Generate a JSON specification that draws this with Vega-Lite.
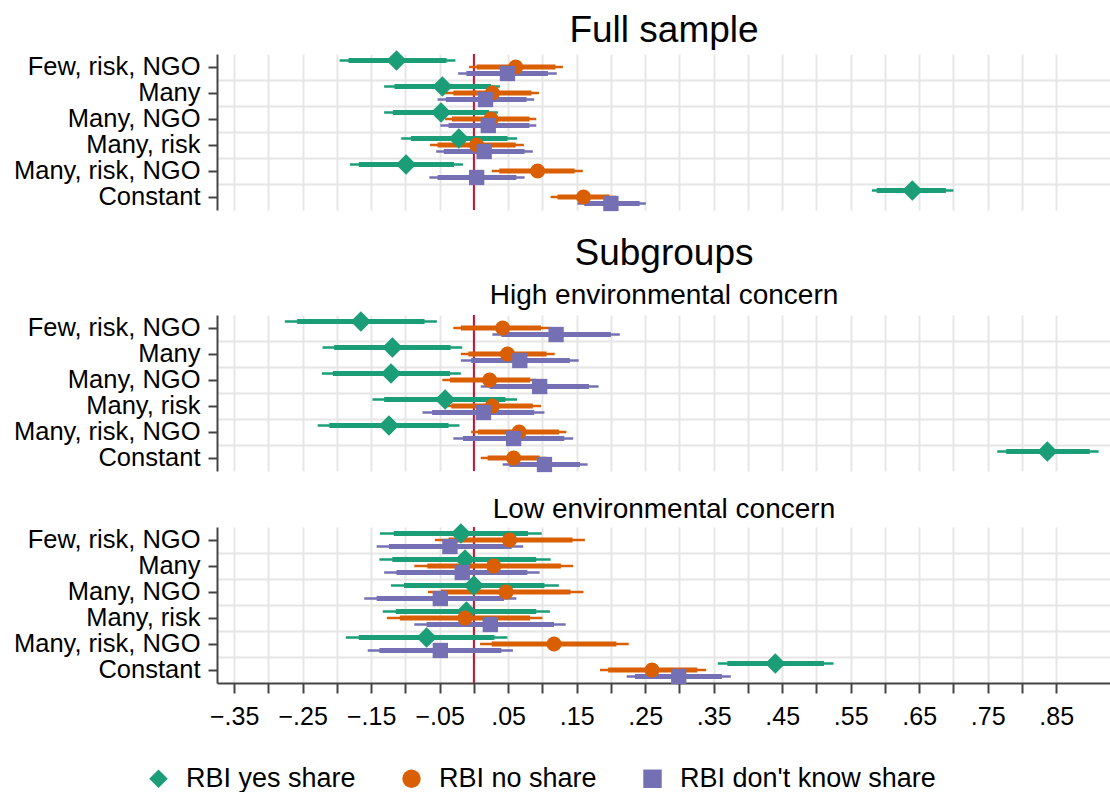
{
  "$schema": "https://vega.github.io/schema/vega-lite/v6.json",
  "background": "white",
  "padding": {"left": 13, "top": 12, "right": 0, "bottom": 0},
  "spacing": 23,
  "config": {
    "view": {"stroke": null},
    "font": "Liberation Sans",
    "axis": {"labelFont": "Liberation Sans", "titleFont": "Liberation Sans"},
    "legend": {"labelFont": "Liberation Sans"},
    "title": {"font": "Liberation Sans", "subtitleFont": "Liberation Sans", "fontWeight": "normal", "color": "#000000", "subtitleColor": "#000000", "anchor": "middle", "frame": "group"}
  },
  "datasets": {
    "coef": [
      {"p":"Full","t":"Few, risk, NGO","s":"RBI yes share","b":-0.113,"l95":-0.196,"h95":-0.027,"l90":-0.183,"h90":-0.040},
      {"p":"Full","t":"Many","s":"RBI yes share","b":-0.046,"l95":-0.131,"h95":0.038,"l90":-0.116,"h90":0.025},
      {"p":"Full","t":"Many, NGO","s":"RBI yes share","b":-0.048,"l95":-0.131,"h95":0.035,"l90":-0.118,"h90":0.022},
      {"p":"Full","t":"Many, risk","s":"RBI yes share","b":-0.022,"l95":-0.106,"h95":0.063,"l90":-0.092,"h90":0.049},
      {"p":"Full","t":"Many, risk, NGO","s":"RBI yes share","b":-0.099,"l95":-0.181,"h95":-0.016,"l90":-0.168,"h90":-0.029},
      {"p":"Full","t":"Constant","s":"RBI yes share","b":0.640,"l95":0.581,"h95":0.700,"l90":0.588,"h90":0.689},
      {"p":"Full","t":"Few, risk, NGO","s":"RBI no share","b":0.061,"l95":-0.007,"h95":0.130,"l90":0.004,"h90":0.119},
      {"p":"Full","t":"Many","s":"RBI no share","b":0.027,"l95":-0.042,"h95":0.095,"l90":-0.030,"h90":0.084},
      {"p":"Full","t":"Many, NGO","s":"RBI no share","b":0.025,"l95":-0.042,"h95":0.091,"l90":-0.032,"h90":0.081},
      {"p":"Full","t":"Many, risk","s":"RBI no share","b":0.004,"l95":-0.064,"h95":0.073,"l90":-0.053,"h90":0.061},
      {"p":"Full","t":"Many, risk, NGO","s":"RBI no share","b":0.093,"l95":0.026,"h95":0.159,"l90":0.037,"h90":0.147},
      {"p":"Full","t":"Constant","s":"RBI no share","b":0.160,"l95":0.112,"h95":0.208,"l90":0.122,"h90":0.198},
      {"p":"Full","t":"Few, risk, NGO","s":"RBI don't know share","b":0.049,"l95":-0.023,"h95":0.121,"l90":-0.011,"h90":0.108},
      {"p":"Full","t":"Many","s":"RBI don't know share","b":0.017,"l95":-0.053,"h95":0.088,"l90":-0.041,"h90":0.077},
      {"p":"Full","t":"Many, NGO","s":"RBI don't know share","b":0.021,"l95":-0.049,"h95":0.091,"l90":-0.037,"h90":0.081},
      {"p":"Full","t":"Many, risk","s":"RBI don't know share","b":0.015,"l95":-0.055,"h95":0.086,"l90":-0.044,"h90":0.074},
      {"p":"Full","t":"Many, risk, NGO","s":"RBI don't know share","b":0.004,"l95":-0.065,"h95":0.074,"l90":-0.053,"h90":0.062},
      {"p":"Full","t":"Constant","s":"RBI don't know share","b":0.200,"l95":0.151,"h95":0.251,"l90":0.161,"h90":0.242},

      {"p":"High","t":"Few, risk, NGO","s":"RBI yes share","b":-0.165,"l95":-0.276,"h95":-0.054,"l90":-0.258,"h90":-0.072},
      {"p":"High","t":"Many","s":"RBI yes share","b":-0.119,"l95":-0.221,"h95":-0.017,"l90":-0.204,"h90":-0.034},
      {"p":"High","t":"Many, NGO","s":"RBI yes share","b":-0.121,"l95":-0.222,"h95":-0.019,"l90":-0.206,"h90":-0.035},
      {"p":"High","t":"Many, risk","s":"RBI yes share","b":-0.042,"l95":-0.148,"h95":0.063,"l90":-0.131,"h90":0.046},
      {"p":"High","t":"Many, risk, NGO","s":"RBI yes share","b":-0.124,"l95":-0.228,"h95":-0.021,"l90":-0.211,"h90":-0.037},
      {"p":"High","t":"Constant","s":"RBI yes share","b":0.837,"l95":0.764,"h95":0.912,"l90":0.777,"h90":0.899},
      {"p":"High","t":"Few, risk, NGO","s":"RBI no share","b":0.042,"l95":-0.030,"h95":0.110,"l90":-0.019,"h90":0.098},
      {"p":"High","t":"Many","s":"RBI no share","b":0.049,"l95":-0.019,"h95":0.118,"l90":-0.008,"h90":0.106},
      {"p":"High","t":"Many, NGO","s":"RBI no share","b":0.023,"l95":-0.046,"h95":0.091,"l90":-0.035,"h90":0.082},
      {"p":"High","t":"Many, risk","s":"RBI no share","b":0.027,"l95":-0.043,"h95":0.098,"l90":-0.033,"h90":0.086},
      {"p":"High","t":"Many, risk, NGO","s":"RBI no share","b":0.066,"l95":-0.004,"h95":0.135,"l90":0.006,"h90":0.124},
      {"p":"High","t":"Constant","s":"RBI no share","b":0.058,"l95":0.010,"h95":0.106,"l90":0.020,"h90":0.096},
      {"p":"High","t":"Few, risk, NGO","s":"RBI don't know share","b":0.120,"l95":0.027,"h95":0.213,"l90":0.040,"h90":0.200},
      {"p":"High","t":"Many","s":"RBI don't know share","b":0.067,"l95":-0.019,"h95":0.153,"l90":-0.004,"h90":0.140},
      {"p":"High","t":"Many, NGO","s":"RBI don't know share","b":0.096,"l95":0.010,"h95":0.182,"l90":0.023,"h90":0.168},
      {"p":"High","t":"Many, risk","s":"RBI don't know share","b":0.014,"l95":-0.075,"h95":0.103,"l90":-0.061,"h90":0.088},
      {"p":"High","t":"Many, risk, NGO","s":"RBI don't know share","b":0.058,"l95":-0.030,"h95":0.145,"l90":-0.016,"h90":0.132},
      {"p":"High","t":"Constant","s":"RBI don't know share","b":0.103,"l95":0.042,"h95":0.166,"l90":0.052,"h90":0.155},

      {"p":"Low","t":"Few, risk, NGO","s":"RBI yes share","b":-0.019,"l95":-0.137,"h95":0.099,"l90":-0.117,"h90":0.079},
      {"p":"Low","t":"Many","s":"RBI yes share","b":-0.013,"l95":-0.138,"h95":0.112,"l90":-0.119,"h90":0.091},
      {"p":"Low","t":"Many, NGO","s":"RBI yes share","b":0.000,"l95":-0.121,"h95":0.124,"l90":-0.102,"h90":0.103},
      {"p":"Low","t":"Many, risk","s":"RBI yes share","b":-0.011,"l95":-0.133,"h95":0.111,"l90":-0.114,"h90":0.091},
      {"p":"Low","t":"Many, risk, NGO","s":"RBI yes share","b":-0.069,"l95":-0.187,"h95":0.049,"l90":-0.168,"h90":0.030},
      {"p":"Low","t":"Constant","s":"RBI yes share","b":0.440,"l95":0.356,"h95":0.525,"l90":0.370,"h90":0.511},
      {"p":"Low","t":"Few, risk, NGO","s":"RBI no share","b":0.052,"l95":-0.057,"h95":0.162,"l90":-0.037,"h90":0.144},
      {"p":"Low","t":"Many","s":"RBI no share","b":0.029,"l95":-0.087,"h95":0.145,"l90":-0.068,"h90":0.127},
      {"p":"Low","t":"Many, NGO","s":"RBI no share","b":0.047,"l95":-0.067,"h95":0.160,"l90":-0.048,"h90":0.141},
      {"p":"Low","t":"Many, risk","s":"RBI no share","b":-0.013,"l95":-0.127,"h95":0.100,"l90":-0.108,"h90":0.082},
      {"p":"Low","t":"Many, risk, NGO","s":"RBI no share","b":0.117,"l95":0.009,"h95":0.226,"l90":0.026,"h90":0.208},
      {"p":"Low","t":"Constant","s":"RBI no share","b":0.260,"l95":0.184,"h95":0.339,"l90":0.196,"h90":0.326},
      {"p":"Low","t":"Few, risk, NGO","s":"RBI don't know share","b":-0.035,"l95":-0.142,"h95":0.072,"l90":-0.124,"h90":0.055},
      {"p":"Low","t":"Many","s":"RBI don't know share","b":-0.017,"l95":-0.131,"h95":0.096,"l90":-0.113,"h90":0.078},
      {"p":"Low","t":"Many, NGO","s":"RBI don't know share","b":-0.049,"l95":-0.160,"h95":0.062,"l90":-0.142,"h90":0.044},
      {"p":"Low","t":"Many, risk","s":"RBI don't know share","b":0.024,"l95":-0.087,"h95":0.134,"l90":-0.069,"h90":0.117},
      {"p":"Low","t":"Many, risk, NGO","s":"RBI don't know share","b":-0.049,"l95":-0.155,"h95":0.057,"l90":-0.138,"h90":0.040},
      {"p":"Low","t":"Constant","s":"RBI don't know share","b":0.299,"l95":0.223,"h95":0.375,"l90":0.235,"h90":0.362}
    ]
  },
  "vconcat": [
    {
      "width": 894, "height": 156,
      "title": {"text": "Full sample", "fontSize": 37, "offset": 0},
      "resolve": {"axis": {"y": "independent"}},
      "layer": [
        {"data": {"values": [{}]}, "mark": {"type": "rule", "color": "#c8102e", "strokeWidth": 2},
         "encoding": {"x": {"datum": 0, "type": "quantitative",
           "axis": {"title": null, "orient": "bottom", "values": [-0.35,-0.3,-0.25,-0.2,-0.15,-0.1,-0.05,0,0.05,0.1,0.15,0.2,0.25,0.3,0.35,0.4,0.45,0.5,0.55,0.6,0.65,0.7,0.75,0.8,0.85], "grid": true, "gridColor": "#e6e6e6", "gridWidth": 2, "labels": false, "ticks": false, "domain": false}}}},
        {"data": {"name": "coef"}, "transform": [{"filter": "datum.p == 'Full'"}],
         "mark": {"type": "rule", "strokeWidth": 2.5},
         "encoding": {
           "x": {"field": "l95", "type": "quantitative", "scale": {"domain": [-0.375, 0.93], "nice": false, "zero": false},
                 "axis": {"title": null, "orient": "bottom", "values": [-0.35,-0.3,-0.25,-0.2,-0.15,-0.1,-0.05,0,0.05,0.1,0.15,0.2,0.25,0.3,0.35,0.4,0.45,0.5,0.55,0.6,0.65,0.7,0.75,0.8,0.85], "grid": true, "gridColor": "#e6e6e6", "gridWidth": 2, "labels": false, "ticks": false, "domain": false}},
           "x2": {"field": "h95"},
           "y": {"field": "t", "type": "nominal",
                 "scale": {"domain": ["Few, risk, NGO","Many","Many, NGO","Many, risk","Many, risk, NGO","Constant"], "paddingInner": 0, "paddingOuter": 0},
                 "axis": {"title": null, "orient": "left", "grid": true, "gridColor": "#e6e6e6", "gridWidth": 2, "labels": false, "ticks": false, "domain": false, "bandPosition": 0, "values": ["Many","Many, NGO","Many, risk","Many, risk, NGO","Constant"], "minExtent": 0, "maxExtent": 0}},
           "yOffset": {"field": "s", "type": "nominal", "scale": {"domain": ["RBI yes share","RBI no share","RBI don't know share"], "paddingInner": 0, "paddingOuter": 0.5}},
           "stroke": {"field": "s", "type": "nominal", "scale": {"domain": ["RBI don't know share","RBI no share","RBI yes share"], "range": ["#7570b3","#d95f02","#1b9e77"]}, "legend": null}
         }},
        {"data": {"name": "coef"}, "transform": [{"filter": "datum.p == 'Full'"}],
         "mark": {"type": "rule", "strokeWidth": 5},
         "encoding": {
           "x": {"field": "l90", "type": "quantitative",
                 "axis": {"title": null, "orient": "bottom", "values": [-0.35,-0.3,-0.25,-0.2,-0.15,-0.1,-0.05,0,0.05,0.1,0.15,0.2,0.25,0.3,0.35,0.4,0.45,0.5,0.55,0.6,0.65,0.7,0.75,0.8,0.85], "grid": true, "gridColor": "#e6e6e6", "gridWidth": 2, "labels": false, "ticks": false, "domain": false}},
           "x2": {"field": "h90"},
           "y": {"field": "t", "type": "nominal", "axis": null},
           "yOffset": {"field": "s", "type": "nominal"},
           "stroke": {"field": "s", "type": "nominal", "legend": null}
         }},
        {"data": {"name": "coef"}, "transform": [{"filter": "datum.p == 'Full'"}],
         "mark": {"type": "point", "filled": true, "opacity": 1},
         "encoding": {
           "x": {"field": "b", "type": "quantitative",
                 "axis": {"title": null, "orient": "bottom", "values": [-0.35,-0.3,-0.25,-0.2,-0.15,-0.1,-0.05,0,0.05,0.1,0.15,0.2,0.25,0.3,0.35,0.4,0.45,0.5,0.55,0.6,0.65,0.7,0.75,0.8,0.85], "grid": true, "gridColor": "#e6e6e6", "gridWidth": 2, "labels": false, "ticks": false, "domain": false}},
           "y": {"field": "t", "type": "nominal",
                 "axis": {"title": null, "orient": "left", "grid": false, "labelFontSize": 25.5, "labelColor": "#000000", "labelPadding": 8, "labelLimit": 400, "tickSize": 9, "tickWidth": 2, "tickColor": "#444444", "domainColor": "#444444", "domainWidth": 2}},
           "yOffset": {"field": "s", "type": "nominal"},
           "color": {"field": "s", "type": "nominal", "scale": {"domain": ["RBI yes share","RBI no share","RBI don't know share"], "range": ["#1b9e77","#d95f02","#7570b3"]},
                     "legend": {"title": null, "orient": "none", "legendX": -72, "legendY": 711, "direction": "horizontal", "labelFontSize": 27, "labelLimit": 500, "labelColor": "#000000", "symbolSize": 340, "symbolStrokeWidth": 0, "columnPadding": 42, "labelOffset": 14}},
           "shape": {"field": "s", "type": "nominal", "scale": {"domain": ["RBI yes share","RBI no share","RBI don't know share"], "range": ["diamond","circle","square"]},
                     "legend": {"title": null, "orient": "none", "legendX": -72, "legendY": 711, "direction": "horizontal", "labelFontSize": 27, "labelLimit": 500, "labelColor": "#000000", "symbolSize": 340, "symbolStrokeWidth": 0, "columnPadding": 42, "labelOffset": 14}},
           "size": {"field": "s", "type": "nominal", "scale": {"type": "ordinal", "domain": ["RBI don't know share","RBI yes share","RBI no share"], "range": [235, 420, 230]}, "legend": null}
         }}
      ]
    },
    {
      "width": 894, "height": 156,
      "title": {"text": "Subgroups", "subtitle": "High environmental concern", "fontSize": 37, "subtitleFontSize": 28, "subtitlePadding": 9, "offset": 0},
      "resolve": {"axis": {"y": "independent"}},
      "layer": [
        {"data": {"values": [{}]}, "mark": {"type": "rule", "color": "#c8102e", "strokeWidth": 2},
         "encoding": {"x": {"datum": 0, "type": "quantitative",
           "axis": {"title": null, "orient": "bottom", "values": [-0.35,-0.3,-0.25,-0.2,-0.15,-0.1,-0.05,0,0.05,0.1,0.15,0.2,0.25,0.3,0.35,0.4,0.45,0.5,0.55,0.6,0.65,0.7,0.75,0.8,0.85], "grid": true, "gridColor": "#e6e6e6", "gridWidth": 2, "labels": false, "ticks": false, "domain": false}}}},
        {"data": {"name": "coef"}, "transform": [{"filter": "datum.p == 'High'"}],
         "mark": {"type": "rule", "strokeWidth": 2.5},
         "encoding": {
           "x": {"field": "l95", "type": "quantitative", "scale": {"domain": [-0.375, 0.93], "nice": false, "zero": false},
                 "axis": {"title": null, "orient": "bottom", "values": [-0.35,-0.3,-0.25,-0.2,-0.15,-0.1,-0.05,0,0.05,0.1,0.15,0.2,0.25,0.3,0.35,0.4,0.45,0.5,0.55,0.6,0.65,0.7,0.75,0.8,0.85], "grid": true, "gridColor": "#e6e6e6", "gridWidth": 2, "labels": false, "ticks": false, "domain": false}},
           "x2": {"field": "h95"},
           "y": {"field": "t", "type": "nominal",
                 "scale": {"domain": ["Few, risk, NGO","Many","Many, NGO","Many, risk","Many, risk, NGO","Constant"], "paddingInner": 0, "paddingOuter": 0},
                 "axis": {"title": null, "orient": "left", "grid": true, "gridColor": "#e6e6e6", "gridWidth": 2, "labels": false, "ticks": false, "domain": false, "bandPosition": 0, "values": ["Many","Many, NGO","Many, risk","Many, risk, NGO","Constant"], "minExtent": 0, "maxExtent": 0}},
           "yOffset": {"field": "s", "type": "nominal", "scale": {"domain": ["RBI yes share","RBI no share","RBI don't know share"], "paddingInner": 0, "paddingOuter": 0.5}},
           "stroke": {"field": "s", "type": "nominal", "scale": {"domain": ["RBI don't know share","RBI no share","RBI yes share"], "range": ["#7570b3","#d95f02","#1b9e77"]}, "legend": null}
         }},
        {"data": {"name": "coef"}, "transform": [{"filter": "datum.p == 'High'"}],
         "mark": {"type": "rule", "strokeWidth": 5},
         "encoding": {
           "x": {"field": "l90", "type": "quantitative",
                 "axis": {"title": null, "orient": "bottom", "values": [-0.35,-0.3,-0.25,-0.2,-0.15,-0.1,-0.05,0,0.05,0.1,0.15,0.2,0.25,0.3,0.35,0.4,0.45,0.5,0.55,0.6,0.65,0.7,0.75,0.8,0.85], "grid": true, "gridColor": "#e6e6e6", "gridWidth": 2, "labels": false, "ticks": false, "domain": false}},
           "x2": {"field": "h90"},
           "y": {"field": "t", "type": "nominal", "axis": null},
           "yOffset": {"field": "s", "type": "nominal"},
           "stroke": {"field": "s", "type": "nominal", "legend": null}
         }},
        {"data": {"name": "coef"}, "transform": [{"filter": "datum.p == 'High'"}],
         "mark": {"type": "point", "filled": true, "opacity": 1},
         "encoding": {
           "x": {"field": "b", "type": "quantitative",
                 "axis": {"title": null, "orient": "bottom", "values": [-0.35,-0.3,-0.25,-0.2,-0.15,-0.1,-0.05,0,0.05,0.1,0.15,0.2,0.25,0.3,0.35,0.4,0.45,0.5,0.55,0.6,0.65,0.7,0.75,0.8,0.85], "grid": true, "gridColor": "#e6e6e6", "gridWidth": 2, "labels": false, "ticks": false, "domain": false}},
           "y": {"field": "t", "type": "nominal",
                 "axis": {"title": null, "orient": "left", "grid": false, "labelFontSize": 25.5, "labelColor": "#000000", "labelPadding": 8, "labelLimit": 400, "tickSize": 9, "tickWidth": 2, "tickColor": "#444444", "domainColor": "#444444", "domainWidth": 2}},
           "yOffset": {"field": "s", "type": "nominal"},
           "color": {"field": "s", "type": "nominal", "scale": {"domain": ["RBI yes share","RBI no share","RBI don't know share"], "range": ["#1b9e77","#d95f02","#7570b3"]},
                     "legend": {"title": null, "orient": "none", "legendX": -72, "legendY": 711, "direction": "horizontal", "labelFontSize": 27, "labelLimit": 500, "labelColor": "#000000", "symbolSize": 340, "symbolStrokeWidth": 0, "columnPadding": 42, "labelOffset": 14}},
           "shape": {"field": "s", "type": "nominal", "scale": {"domain": ["RBI yes share","RBI no share","RBI don't know share"], "range": ["diamond","circle","square"]},
                     "legend": {"title": null, "orient": "none", "legendX": -72, "legendY": 711, "direction": "horizontal", "labelFontSize": 27, "labelLimit": 500, "labelColor": "#000000", "symbolSize": 340, "symbolStrokeWidth": 0, "columnPadding": 42, "labelOffset": 14}},
           "size": {"field": "s", "type": "nominal", "scale": {"type": "ordinal", "domain": ["RBI don't know share","RBI yes share","RBI no share"], "range": [235, 420, 230]}, "legend": null}
         }}
      ]
    },
    {
      "width": 894, "height": 156,
      "title": {"text": "Low environmental concern", "fontSize": 28, "offset": -1},
      "resolve": {"axis": {"y": "independent"}},
      "layer": [
        {"data": {"values": [{}]}, "mark": {"type": "rule", "color": "#c8102e", "strokeWidth": 2},
         "encoding": {"x": {"datum": 0, "type": "quantitative",
           "axis": {"title": null, "orient": "bottom", "values": [-0.35,-0.3,-0.25,-0.2,-0.15,-0.1,-0.05,0,0.05,0.1,0.15,0.2,0.25,0.3,0.35,0.4,0.45,0.5,0.55,0.6,0.65,0.7,0.75,0.8,0.85], "grid": true, "gridColor": "#e6e6e6", "gridWidth": 2,
                    "labels": true, "labelExpr": "abs(round(datum.value*100)) % 10 == 5 ? replace(format(datum.value, '.2f'), '0.', '.') : ''", "labelOverlap": false, "labelFlush": false, "labelFontSize": 25, "labelColor": "#000000", "labelPadding": 11,
                    "ticks": true, "tickSize": 10, "tickWidth": 2, "tickColor": "#444444", "domain": true, "domainColor": "#444444", "domainWidth": 2}}}},
        {"data": {"name": "coef"}, "transform": [{"filter": "datum.p == 'Low'"}],
         "mark": {"type": "rule", "strokeWidth": 2.5},
         "encoding": {
           "x": {"field": "l95", "type": "quantitative", "scale": {"domain": [-0.375, 0.93], "nice": false, "zero": false},
                 "axis": {"title": null, "orient": "bottom", "values": [-0.35,-0.3,-0.25,-0.2,-0.15,-0.1,-0.05,0,0.05,0.1,0.15,0.2,0.25,0.3,0.35,0.4,0.45,0.5,0.55,0.6,0.65,0.7,0.75,0.8,0.85], "grid": true, "gridColor": "#e6e6e6", "gridWidth": 2,
                    "labels": true, "labelExpr": "abs(round(datum.value*100)) % 10 == 5 ? replace(format(datum.value, '.2f'), '0.', '.') : ''", "labelOverlap": false, "labelFlush": false, "labelFontSize": 25, "labelColor": "#000000", "labelPadding": 11,
                    "ticks": true, "tickSize": 10, "tickWidth": 2, "tickColor": "#444444", "domain": true, "domainColor": "#444444", "domainWidth": 2}},
           "x2": {"field": "h95"},
           "y": {"field": "t", "type": "nominal",
                 "scale": {"domain": ["Few, risk, NGO","Many","Many, NGO","Many, risk","Many, risk, NGO","Constant"], "paddingInner": 0, "paddingOuter": 0},
                 "axis": {"title": null, "orient": "left", "grid": true, "gridColor": "#e6e6e6", "gridWidth": 2, "labels": false, "ticks": false, "domain": false, "bandPosition": 0, "values": ["Many","Many, NGO","Many, risk","Many, risk, NGO","Constant"], "minExtent": 0, "maxExtent": 0}},
           "yOffset": {"field": "s", "type": "nominal", "scale": {"domain": ["RBI yes share","RBI no share","RBI don't know share"], "paddingInner": 0, "paddingOuter": 0.5}},
           "stroke": {"field": "s", "type": "nominal", "scale": {"domain": ["RBI don't know share","RBI no share","RBI yes share"], "range": ["#7570b3","#d95f02","#1b9e77"]}, "legend": null}
         }},
        {"data": {"name": "coef"}, "transform": [{"filter": "datum.p == 'Low'"}],
         "mark": {"type": "rule", "strokeWidth": 5},
         "encoding": {
           "x": {"field": "l90", "type": "quantitative",
                 "axis": {"title": null, "orient": "bottom", "values": [-0.35,-0.3,-0.25,-0.2,-0.15,-0.1,-0.05,0,0.05,0.1,0.15,0.2,0.25,0.3,0.35,0.4,0.45,0.5,0.55,0.6,0.65,0.7,0.75,0.8,0.85], "grid": true, "gridColor": "#e6e6e6", "gridWidth": 2,
                    "labels": true, "labelExpr": "abs(round(datum.value*100)) % 10 == 5 ? replace(format(datum.value, '.2f'), '0.', '.') : ''", "labelOverlap": false, "labelFlush": false, "labelFontSize": 25, "labelColor": "#000000", "labelPadding": 11,
                    "ticks": true, "tickSize": 10, "tickWidth": 2, "tickColor": "#444444", "domain": true, "domainColor": "#444444", "domainWidth": 2}},
           "x2": {"field": "h90"},
           "y": {"field": "t", "type": "nominal", "axis": null},
           "yOffset": {"field": "s", "type": "nominal"},
           "stroke": {"field": "s", "type": "nominal", "legend": null}
         }},
        {"data": {"name": "coef"}, "transform": [{"filter": "datum.p == 'Low'"}],
         "mark": {"type": "point", "filled": true, "opacity": 1},
         "encoding": {
           "x": {"field": "b", "type": "quantitative",
                 "axis": {"title": null, "orient": "bottom", "values": [-0.35,-0.3,-0.25,-0.2,-0.15,-0.1,-0.05,0,0.05,0.1,0.15,0.2,0.25,0.3,0.35,0.4,0.45,0.5,0.55,0.6,0.65,0.7,0.75,0.8,0.85], "grid": true, "gridColor": "#e6e6e6", "gridWidth": 2,
                    "labels": true, "labelExpr": "abs(round(datum.value*100)) % 10 == 5 ? replace(format(datum.value, '.2f'), '0.', '.') : ''", "labelOverlap": false, "labelFlush": false, "labelFontSize": 25, "labelColor": "#000000", "labelPadding": 11,
                    "ticks": true, "tickSize": 10, "tickWidth": 2, "tickColor": "#444444", "domain": true, "domainColor": "#444444", "domainWidth": 2}},
           "y": {"field": "t", "type": "nominal",
                 "axis": {"title": null, "orient": "left", "grid": false, "labelFontSize": 25.5, "labelColor": "#000000", "labelPadding": 8, "labelLimit": 400, "tickSize": 9, "tickWidth": 2, "tickColor": "#444444", "domainColor": "#444444", "domainWidth": 2}},
           "yOffset": {"field": "s", "type": "nominal"},
           "color": {"field": "s", "type": "nominal", "scale": {"domain": ["RBI yes share","RBI no share","RBI don't know share"], "range": ["#1b9e77","#d95f02","#7570b3"]},
                     "legend": {"title": null, "orient": "none", "legendX": -72, "legendY": 711, "direction": "horizontal", "labelFontSize": 27, "labelLimit": 500, "labelColor": "#000000", "symbolSize": 340, "symbolStrokeWidth": 0, "columnPadding": 42, "labelOffset": 14}},
           "shape": {"field": "s", "type": "nominal", "scale": {"domain": ["RBI yes share","RBI no share","RBI don't know share"], "range": ["diamond","circle","square"]},
                     "legend": {"title": null, "orient": "none", "legendX": -72, "legendY": 711, "direction": "horizontal", "labelFontSize": 27, "labelLimit": 500, "labelColor": "#000000", "symbolSize": 340, "symbolStrokeWidth": 0, "columnPadding": 42, "labelOffset": 14}},
           "size": {"field": "s", "type": "nominal", "scale": {"type": "ordinal", "domain": ["RBI don't know share","RBI yes share","RBI no share"], "range": [235, 420, 230]}, "legend": null}
         }}
      ]
    }
  ]
}
